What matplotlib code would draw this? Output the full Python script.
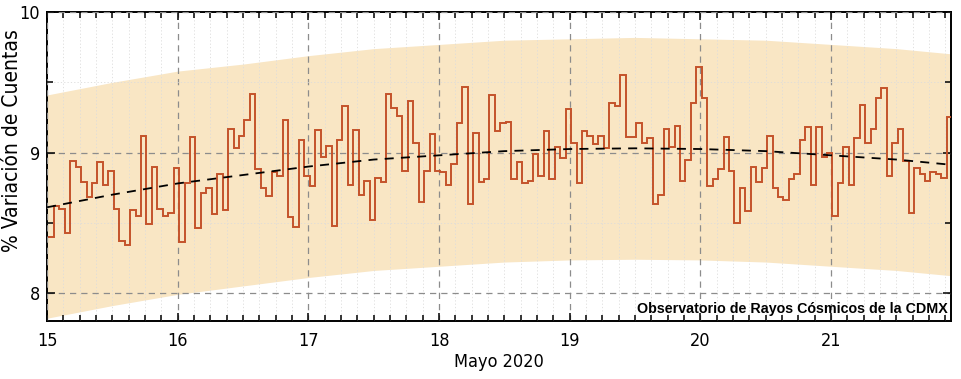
import matplotlib
matplotlib.use("Agg")
import matplotlib.pyplot as plt
from matplotlib.ticker import MultipleLocator
import numpy as np

# hourly values, 15 may 00h onward
d15 = [8.40, 8.62, 8.60, 8.43, 8.94, 8.90, 8.79, 8.68, 8.78, 8.93, 8.77, 8.87,
       8.60, 8.37, 8.34, 8.59, 8.55, 9.12, 8.49, 8.90, 8.60, 8.55, 8.57, 8.89]
d16 = [8.36, 8.78, 9.11, 8.46, 8.71, 8.75, 8.56, 8.85, 8.59, 9.17, 9.03, 9.12,
       9.23, 9.42, 8.88, 8.75, 8.69, 8.86, 8.83, 9.23, 8.54, 8.47, 9.09, 8.83]
d17 = [8.76, 9.16, 8.97, 9.05, 8.48, 9.09, 9.33, 8.77, 9.16, 8.70, 8.80, 8.52,
       8.82, 8.79, 9.42, 9.32, 9.26, 8.87, 9.37, 9.07, 8.65, 8.87, 9.13, 8.87]
d18 = [8.86, 8.77, 8.92, 9.21, 9.47, 8.63, 9.14, 8.79, 8.81, 9.41, 9.15, 9.21,
       9.22, 8.81, 8.93, 8.78, 8.80, 8.99, 8.83, 9.15, 8.81, 9.04, 8.96, 9.31]
d19 = [9.07, 8.78, 9.15, 9.12, 9.06, 9.12, 9.03, 9.35, 9.33, 9.55, 9.11, 9.11,
       9.21, 9.07, 9.10, 8.63, 8.70, 9.17, 9.04, 9.19, 8.80, 8.95, 9.35, 9.61]
d20 = [9.39, 8.76, 8.81, 8.88, 9.11, 8.87, 8.50, 8.75, 8.58, 8.90, 8.79, 8.89,
       9.12, 8.75, 8.68, 8.66, 8.81, 8.85, 9.09, 9.18, 8.77, 9.18, 8.97, 9.00]
d21 = [8.55, 8.78, 9.04, 8.77, 9.10, 9.34, 9.07, 9.17, 9.39, 9.46, 8.83, 9.07,
       9.17, 8.94, 8.57, 8.89, 8.85, 8.80, 8.86, 8.85, 8.82, 9.25]
counts = d15 + d16 + d17 + d18 + d19 + d20 + d21
hours = 15.01 + np.arange(len(counts) + 1) / 24.0

# trend line and band, read at half-day points
trend_x = [15, 15.5, 16, 16.5, 17, 17.5, 18, 18.5, 19, 19.5, 20, 20.5, 21, 21.5, 21.95]
trend_y = [8.61, 8.70, 8.78, 8.84, 8.90, 8.95, 8.98, 9.01, 9.025, 9.03, 9.025, 9.01, 8.98, 8.95, 8.91]
band_hi = [9.41, 9.50, 9.58, 9.63, 9.69, 9.74, 9.77, 9.80, 9.81, 9.82, 9.81, 9.80, 9.77, 9.74, 9.70]
band_lo = [7.82, 7.91, 7.99, 8.05, 8.11, 8.16, 8.19, 8.22, 8.235, 8.24, 8.235, 8.22, 8.19, 8.16, 8.12]

xticks = [15, 16, 17, 18, 19, 20, 21]
yticks = [8, 9, 10]

narrow = dict(family=["Liberation Sans Narrow", "DejaVu Sans"], stretch="condensed")

fig = plt.figure(figsize=(9.61, 3.79), dpi=100)
ax = fig.add_axes([0.049, 0.153, 0.9405, 0.815])

ax.fill_between(trend_x, band_lo, band_hi, color="#f9e6c4", lw=0, zorder=1)
ax.stairs(counts, hours, baseline=None, color="#c4522a", lw=1.4, zorder=3)
ax.plot(trend_x, trend_y, color="black", ls=(0, (5, 4)), lw=1.3, zorder=4)

ax.set_xlim(15, 15 + len(counts) / 24.0)
ax.set_ylim(7.8, 10)
ax.set_xticks(xticks)
ax.set_yticks(yticks)
ax.xaxis.set_minor_locator(MultipleLocator(0.125))
ax.yaxis.set_minor_locator(MultipleLocator(0.5))

ax.grid(which="major", color="#8c8c8c", ls=(0, (5, 4)), lw=0.9, zorder=2)
ax.grid(which="minor", color="#dcdcdc", ls=(0, (1.5, 2.5)), lw=0.6, zorder=2)
ax.set_axisbelow(False)

ax.tick_params(which="both", direction="in", top=True, right=True, width=1.1)
ax.tick_params(which="major", length=6, labelsize=13, pad=8)
ax.tick_params(which="minor", length=4)
ax.tick_params(axis="y", which="major", pad=5)
for lab in ax.get_xticklabels() + ax.get_yticklabels():
    lab.set(**narrow)
for sp in ax.spines.values():
    sp.set_linewidth(1.4)

ax.set_xlabel("Mayo 2020", fontsize=13, labelpad=2, **narrow)
ylab = ax.set_ylabel("% Variación de Cuentas", fontsize=15, **narrow)
ylab.set_va("center")
ax.yaxis.set_label_coords(-0.039, 0.585)

ax.text(0.996, 0.04, "Observatorio de Rayos Cósmicos de la CDMX", transform=ax.transAxes,
        ha="right", va="center", fontsize=10.3, fontweight="bold", family="Liberation Sans",
        zorder=5)

fig.savefig("out.png", dpi=100)
